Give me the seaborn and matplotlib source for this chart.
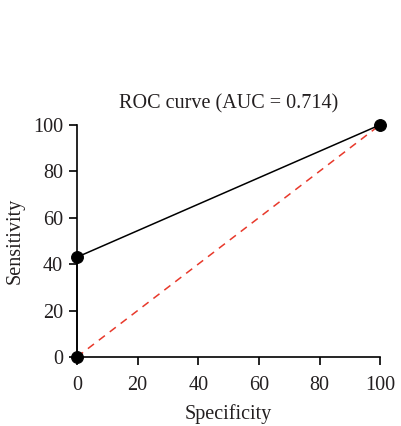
import matplotlib
matplotlib.use("Agg")
import matplotlib.pyplot as plt
import seaborn as sns
import pandas as pd

specificity = [0, 0, 100]
sensitivity = [0, 43, 100]
diag_x = [0, 100]
diag_y = [0, 100]
ticks = [0, 20, 40, 60, 80, 100]
title = "ROC curve (AUC = 0.714)"

sns.set_style("ticks")
plt.rcParams['font.family'] = ['Liberation Serif', 'DejaVu Serif']

fig = plt.figure(figsize=(4.01, 4.26), dpi=100)
ax = fig.add_axes([0.192, 0.162, 0.756, 0.545])

df = pd.DataFrame({"x": specificity, "y": sensitivity})
sns.lineplot(x=diag_x, y=diag_y, ax=ax, color="#e8392b", linestyle=(0, (5, 4)),
             linewidth=1.1, zorder=2, estimator=None)
sns.lineplot(data=df, x="x", y="y", ax=ax, sort=False, estimator=None,
             color="black", linewidth=1.1, marker="o", markersize=8.5,
             markeredgecolor="black", zorder=3, clip_on=False)

ax.set_xlim(0, 100)
ax.set_ylim(0, 100)
ax.set_xticks(ticks)
ax.set_yticks(ticks)
sns.despine(ax=ax)
for s in ["left", "bottom"]:
    ax.spines[s].set_linewidth(1.2)
    ax.spines[s].set_color("black")
fs = 14.5
ax.tick_params(direction="out", length=5.5, width=1.2, colors="black",
               labelsize=fs)
ax.tick_params(axis="x", pad=8)
ax.tick_params(axis="y", pad=4.5)
for lab in ax.get_xticklabels() + ax.get_yticklabels():
    lab.set_color("#231f20")
ax.set_xlabel("Specificity", fontsize=fs, color="#231f20", labelpad=7)
ax.set_ylabel("Sensitivity", fontsize=fs, color="#231f20", labelpad=6)
ax.set_title(title, fontsize=fs, color="#231f20", pad=12)

fig.savefig("out.png", dpi=100, facecolor="white")
